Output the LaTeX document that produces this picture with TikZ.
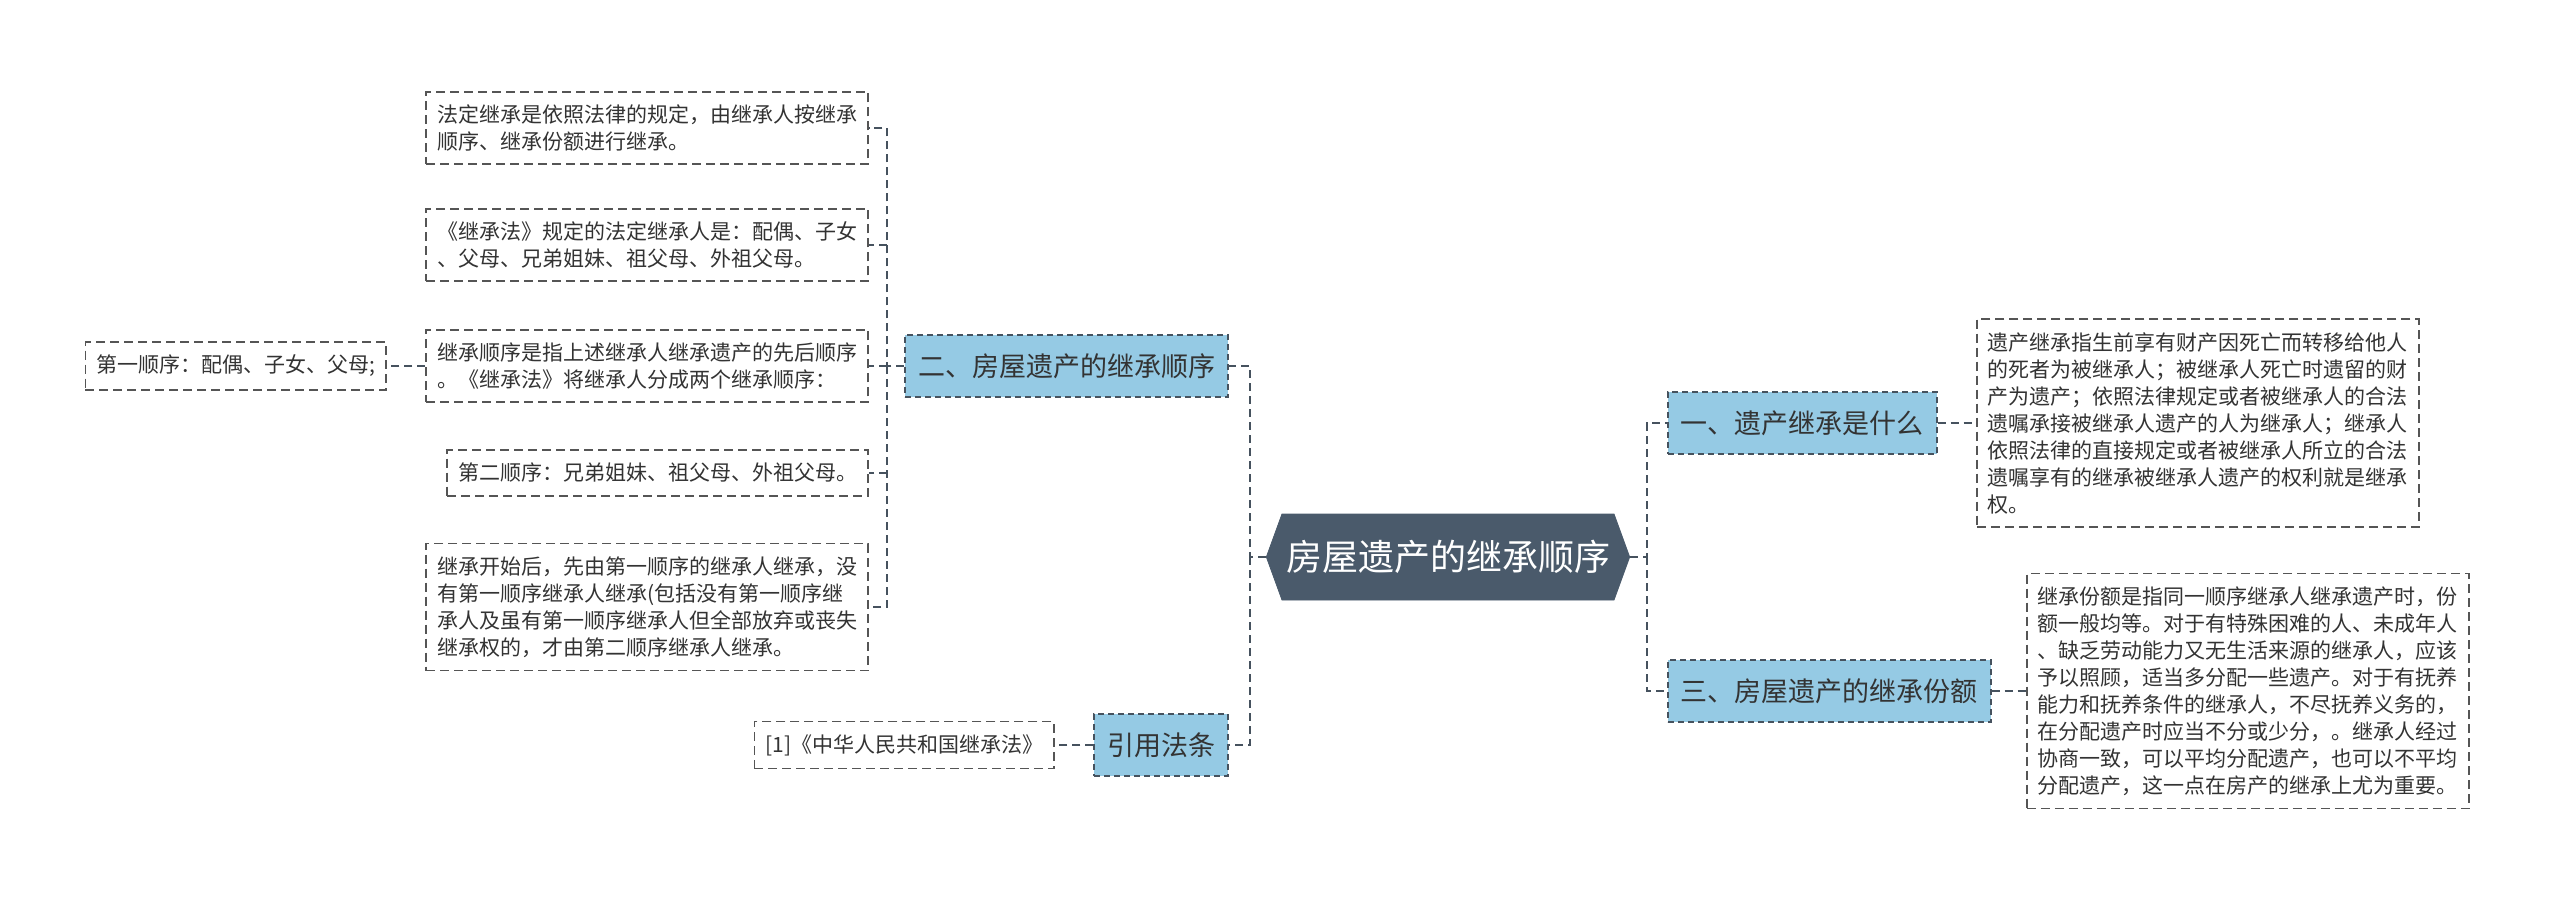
\documentclass[tikz,border=0pt]{standalone}
\usepackage{fontspec}
\newfontfamily\cjkfont{Noto Sans CJK SC}
\usetikzlibrary{shapes.symbols}
\definecolor{mmink}{HTML}{333333}
\definecolor{mmhub}{HTML}{4A5A6B}
\definecolor{mmtopic}{HTML}{95CAE4}
\definecolor{mmline}{HTML}{46525E}
\definecolor{mmgrey}{HTML}{555555}
\tikzset{
  hub/.style={signal,signal to=west and east,signal pointer angle=140,fill=mmhub,draw=mmhub,text=white,minimum height=43pt,inner xsep=2pt,font=\cjkfont\fontsize{18}{18}\selectfont},
  topic/.style={rectangle,draw=mmline,fill=mmtopic,dash pattern=on 3pt off 2pt,line width=.8pt,minimum height=31pt,inner xsep=6.5pt,text=mmink,font=\cjkfont\fontsize{13.5}{13.5}\selectfont},
  leaf/.style={rectangle,draw=mmgrey,fill=white,dash pattern=on 4.5pt off 2.5pt,line width=.8pt,inner xsep=5.5pt,inner ysep=6.5pt,align=left,text=mmink,font=\cjkfont\fontsize{10.5}{13.5}\selectfont},
  link/.style={draw=mmline,line width=1pt,dash pattern=on 4pt off 2.5pt},
}

\begin{document}
\begin{tikzpicture}[x=0.5pt,y=-0.5pt,font=\cjkfont]
  \path[use as bounding box] (0,0) rectangle (2560,899);
  \coordinate (lj) at (1250,557);
  \coordinate (rj) at (1647,557);
  \coordinate (lk) at (887,366);
  \node[hub] (root) at (1448,557) {房屋遗产的继承顺序};
  \node[topic,anchor=east] (s2) at (1229,366) {二、房屋遗产的继承顺序};
  \node[topic,anchor=east] (cite) at (1229,745) {引用法条};
  \node[topic,anchor=west] (s1) at (1667,423) {一、遗产继承是什么};
  \node[topic,anchor=west] (s3) at (1667,691) {三、房屋遗产的继承份额};
  \node[leaf,anchor=east] (l1) at (869,128) {法定继承是依照法律的规定，由继承人按继承\\顺序、继承份额进行继承。};
  \node[leaf,anchor=east] (l2) at (869,245) {《继承法》规定的法定继承人是：配偶、子女\\、父母、兄弟姐妹、祖父母、外祖父母。};
  \node[leaf,anchor=east] (l3) at (869,366) {继承顺序是指上述继承人继承遗产的先后顺序\\。《继承法》将继承人分成两个继承顺序：};
  \node[leaf,anchor=east] (l4) at (869,473) {第二顺序：兄弟姐妹、祖父母、外祖父母。};
  \node[leaf,anchor=east] (l5) at (869,607) {继承开始后，先由第一顺序的继承人继承，没\\有第一顺序继承人继承(包括没有第一顺序继\\承人及虽有第一顺序继承人但全部放弃或丧失\\继承权的，才由第二顺序继承人继承。};
  \node[leaf,anchor=east] (first) at (387,366) {第一顺序：配偶、子女、父母;};
  \node[leaf,anchor=east] (law) at (1055,745) {[1]《中华人民共和国继承法》};
  \node[leaf,anchor=west] (d1) at (1976,423) {遗产继承指生前享有财产因死亡而转移给他人\\的死者为被继承人；被继承人死亡时遗留的财\\产为遗产；依照法律规定或者被继承人的合法\\遗嘱承接被继承人遗产的人为继承人；继承人\\依照法律的直接规定或者被继承人所立的合法\\遗嘱享有的继承被继承人遗产的权利就是继承\\权。};
  \node[leaf,anchor=west] (d3) at (2026,691) {继承份额是指同一顺序继承人继承遗产时，份\\额一般均等。对于有特殊困难的人、未成年人\\、缺乏劳动能力又无生活来源的继承人，应该\\予以照顾，适当多分配一些遗产。对于有抚养\\能力和抚养条件的继承人，不尽抚养义务的，\\在分配遗产时应当不分或少分，。继承人经过\\协商一致，可以平均分配遗产，也可以不平均\\分配遗产，这一点在房产的继承上尤为重要。};
  \draw[link] (root.west) -- (lj) |- (s2.east);
  \draw[link] (lj) |- (cite.east);
  \draw[link] (root.east) -- (rj) |- (s1.west);
  \draw[link] (rj) |- (s3.west);
  \draw[link] (s2.west) -- (lk) |- (l1.east);
  \draw[link] (lk) |- (l5.east);
  \foreach \n in {l2,l3,l4} \draw[link] (lk |- \n.east) -- (\n.east);
  \draw[link] (l3.west) -- (first.east);
  \draw[link] (cite.west) -- (law.east);
  \draw[link] (s1.east) -- (d1.west);
  \draw[link] (s3.east) -- (d3.west);
\end{tikzpicture}
\end{document}
